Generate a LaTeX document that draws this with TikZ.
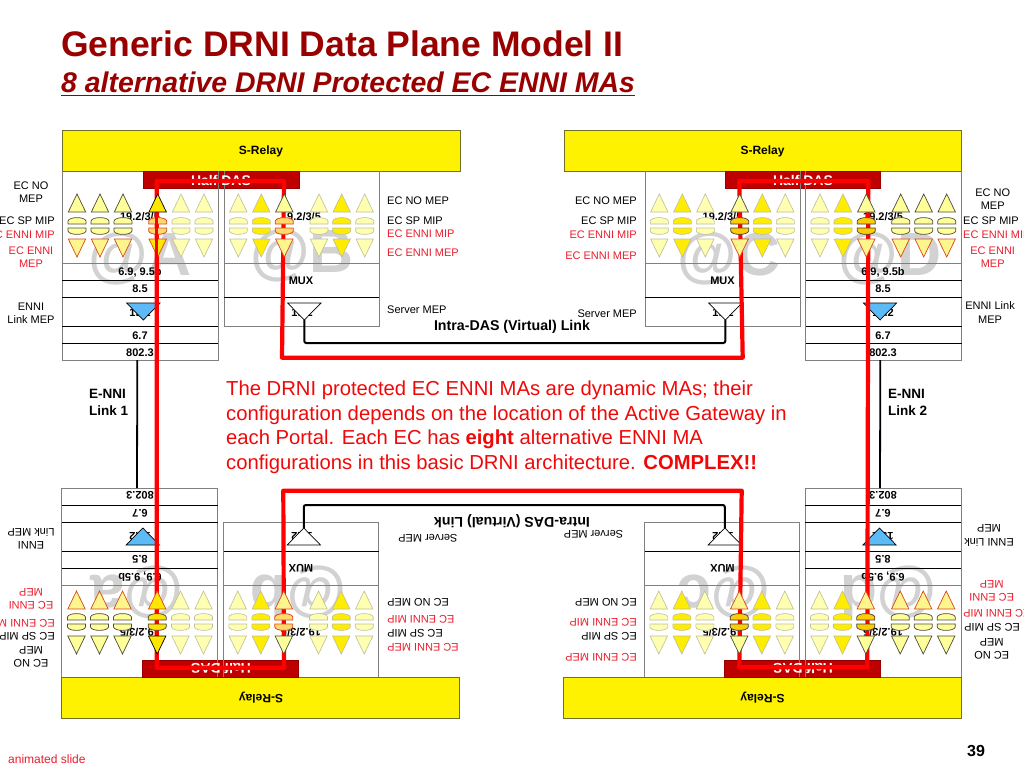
\documentclass[tikz,border=0pt]{standalone}
\usepackage{fontspec}
\setmainfont{Liberation Sans}
\definecolor{titlered}{HTML}{990000}
\definecolor{ennired}{HTML}{EA1C2C}
\definecolor{bodyred}{HTML}{F00808}
\definecolor{dasred}{HTML}{BE0000}
\definecolor{wmgray}{HTML}{D2D2D2}
\definecolor{relayedge}{HTML}{70702A}
\definecolor{boxedge}{HTML}{808080}
\definecolor{lemon}{HTML}{FFFF99}
\definecolor{fadeedge}{HTML}{BDBD98}
\definecolor{mepedge}{HTML}{D8481C}
\definecolor{linkblue}{HTML}{5CBBF6}
\newcommand{\ecstack}[4]{
  \draw[#2] (#1-8.7,212) -- (#1,194) -- (#1+8.7,212) -- cycle;
  \draw[#3] (#1-9,224) -- (#1-9,221) .. controls (#1-8,216.5) and (#1+8,216.5) .. (#1+9,221) -- (#1+9,224) -- cycle;
  \draw[#3] (#1-9,228) -- (#1+9,228) -- (#1+9,231) .. controls (#1+8,235.5) and (#1-8,235.5) .. (#1-9,231) -- cycle;
  \draw[#4] (#1-8.7,239) -- (#1+8.7,239) -- (#1,257) -- cycle;
}
\newcommand{\dasboxes}{
  \draw[relay] (62,130) rectangle (460,171);
  \draw[relay] (564,130) rectangle (961.5,171);
  \draw[das] (143,171) rectangle (299,188);
  \draw[das] (725,171) rectangle (880.5,188);
  \foreach \xa/\xb in {62/218,805.5/961.5} {
    \draw[outer] (\xa,171) -- (\xa,360) -- (\xb,360) -- (\xb,171);
    \draw[outer] (\xa,263) -- (\xb,263);
    \foreach \yy in {280,297,326,343} {\draw[rule] (\xa,\yy) -- (\xb,\yy);}
  }
  \foreach \xa/\xb in {224/379,645/800} {
    \draw[outer] (\xa,171) -- (\xa,326) -- (\xb,326) -- (\xb,171);
    \draw[outer] (\xa,263) -- (\xb,263);
    \draw[rule] (\xa,297) -- (\xb,297);
  }
  \coordinate (tipB) at (304.3,320);
  \coordinate (tipC) at (725.3,320);
  \draw[line width=2,rounded corners=2] (tipB) -- (304.3,343) -- (725.3,343) -- (tipC);
}
% the link triangles come after the clause numbers, which stay half hidden
\newcommand{\dastris}{
  \foreach \xc/\tint in {143.3/linkblue,880/linkblue,304.3/white,725.3/white} {
    \draw[rule,fill=\tint] (\xc-16.7,303) -- (\xc+16.7,303) -- (\xc,320) -- cycle;
  }
}
% #1 is the look of the lenses on the leading column of the left block
\newcommand{\dasstacks}[1]{
  \foreach \x in {77,100,123} {\ecstack{\x}{mepK}{mepK}{mepR}}
  \ecstack{157.7}{leadK}{#1}{leadR}
  \foreach \x in {181,204,238.3,319,364.7,659.3,705.3,785.3,820} {\ecstack{\x}{fadeup}{fadeup}{fadeup}}
  \foreach \x in {261.3,341.7,682.3,762.3,843} {\ecstack{\x}{hot}{hot}{hot}}
  \ecstack{284.3}{mepK}{lensR}{mepR}
  \foreach \x in {739.7,866.3} {\ecstack{\x}{mepK}{lensO}{mepR}}
  \foreach \x in {900.7,923.7,946.7} {\ecstack{\x}{mepK}{mepK}{mepR}}
}
\tikzset{
  lbl/.style={inner sep=0,font=\fontsize{11}{13.3}\selectfont},
  lblred/.style={lbl,text=ennired},
  num/.style={inner sep=0,font=\fontsize{11}{13}\selectfont\bfseries},
  flip/.style={rotate=180},
  relaytxt/.style={inner sep=0,font=\fontsize{12}{14}\selectfont\bfseries},
  dastxt/.style={inner sep=0,text=white,font=\fontsize{14}{16}\selectfont\bfseries},
  linktxt/.style={inner sep=0,font=\fontsize{13.5}{16.6}\selectfont\bfseries},
  intratxt/.style={inner sep=0,font=\fontsize{14.2}{17}\selectfont\bfseries},
  wmark/.style={inner sep=0,text=wmgray,font=\fontsize{61}{61}\selectfont\bfseries},
  relay/.style={draw=relayedge,fill=yellow,line width=.8},
  das/.style={draw=dasred!80!black,fill=dasred,line width=.5},
  outer/.style={draw=boxedge,line width=.9},
  rule/.style={draw=black,line width=.7},
  mepK/.style={draw=black!80!yellow,fill=lemon,line width=.7},
  mepR/.style={draw=mepedge,fill=lemon!92!orange,line width=.7},
  leadK/.style={draw=black,fill=yellow!90!orange,line width=.7},
  leadR/.style={draw=mepedge,fill=yellow!90!orange,line width=.7},
  lensR/.style={draw=mepedge,fill=lemon!70!orange,line width=.8},
  lensO/.style={draw=black!85!yellow,fill=yellow!65!orange,line width=.7},
  lensY/.style={draw=black!85!yellow,fill=yellow!85!orange,line width=.7},
  fadeup/.style={draw=fadeedge,fill=lemon!75!white,line width=.6},
  hot/.style={draw=fadeedge,fill=yellow!95!orange,line width=.6},
  loopline/.style={draw=red,line width=4.2,line join=round},
}
\begin{document}
\begin{tikzpicture}[x=1pt,y=-1pt]
  \useasboundingbox (0,0) rectangle (1024,768);
  \node[inner sep=0,anchor=base west,text=titlered,font=\fontsize{35.5}{40}\selectfont\bfseries] (title) at (61,56.7) {Generic DRNI Data Plane Model II};
  \node[inner sep=0,anchor=base west,text=titlered,font=\fontsize{28.45}{32}\selectfont\bfseries\itshape] (subtitle) at (61,92.7) {8 alternative DRNI Protected EC ENNI MAs};
  \draw[titlered,line width=1.4] ([yshift=-2.6pt]subtitle.base west) -- ([yshift=-2.6pt]subtitle.base east);

  % watermarks first, everything sits on them
  \foreach \xw/\yw/\mk in {88/275/A,250/272/B,677/275/C,838/275/D} {
    \node[wmark,anchor=base west] (wm\mk) at (\xw,\yw) {@\mk};
  }
  \foreach \xw/\mk in {90/a,250/b,677/c,840/d} {
    \node[wmark,flip,anchor=base east] (wm\mk) at (\xw,575) {@\mk};
  }

  \dasboxes
  \begin{scope}[shift={(-0.5,848)},yscale=-1]
    \dasboxes
  \end{scope}

  % upper row texts
  \node[relaytxt] (relayL) at (261,151) {S-Relay};
  \node[relaytxt] (relayR) at (762.5,151) {S-Relay};
  \node[dastxt] (dasL) at (221,180) {Half DAS};
  \node[dastxt] (dasR) at (803,180) {Half DAS};
  \foreach \xn/\nm in {140/A,301/B,722.5/C,883/D} {
    \node[num] (clause\nm) at (\xn,217) {19.2/3/5};
  }
  \foreach \xn/\nm in {140/A,883/D} {
    \node[num] (ec\nm) at (\xn,272) {6.9, 9.5b};
    \node[num] (sub\nm) at (\xn,289) {8.5};
    \node[num] (mac\nm) at (\xn,335.3) {6.7};
    \node[num] (phy\nm) at (\xn,352.3) {802.3};
  }
  \foreach \xn/\nm in {301/B,722.5/C} {
    \node[num] (mux\nm) at (\xn,280.7) {MUX};
  }
  % lower row texts
  \node[relaytxt,flip] (relayLb) at (261,697.3) {S-Relay};
  \node[relaytxt,flip] (relayRb) at (762.5,697.3) {S-Relay};
  \node[dastxt,flip] (dasLb) at (221,668) {Half DAS};
  \node[dastxt,flip] (dasRb) at (803,668) {Half DAS};
  \foreach \xn/\nm in {140/A,301/B,722.5/C,883/D} {
    \node[num,flip] (clause\nm b) at (\xn,632) {19.2/3/5};
  }
  \foreach \xn/\nm in {140/A,883/D} {
    \node[num,flip] (ec\nm b) at (\xn,576.7) {6.9, 9.5b};
    \node[num,flip] (sub\nm b) at (\xn,559.3) {8.5};
    \node[num,flip] (mac\nm b) at (\xn,513.3) {6.7};
    \node[num,flip] (phy\nm b) at (\xn,495.7) {802.3};
  }
  \foreach \xn/\nm in {301/B,722.5/C} {
    \node[num,flip] (mux\nm b) at (\xn,568.3) {MUX};
  }
  \foreach \xn/\nm in {140/A,302/B,723/C,883/D} {
    \node[num] (srv\nm) at (\xn,312.7) {19.2};
    \node[num,flip] (srv\nm b) at (\xn,536) {19.2};
  }
  \dastris
  \begin{scope}[shift={(-0.5,848)},yscale=-1]
    \dastris
  \end{scope}

  % E-NNI links
  \coordinate (linkLt) at (137.3,360);
  \coordinate (linkLb) at (137,488);
  \coordinate (linkRt) at (880.3,360);
  \coordinate (linkRb) at (880,488);
  \draw[line width=1.8] (linkLt) -- (linkLb);
  \draw[line width=1.8] (linkRt) -- (linkRb);

  % red loop of the MA
  \draw[loopline] (156.7,181) -- (284,181) -- (282,357.7) -- (742.7,357.7) -- (739.3,181) -- (868.3,181)
    -- (867.3,667.3) -- (739.3,667.3) -- (741.7,490.7) -- (283.3,490.7) -- (284,667.7) -- (156.7,667.7) -- cycle;

  \dasstacks{lensR}
  \begin{scope}[shift={(-0.5,848)},yscale=-1]
    \dasstacks{lensY}
  \end{scope}
  \draw[loopline,line width=3] (156.7,215) -- (156.7,262);

  % left of block A
  \node[lbl,align=center] (noA) at (31,192.5) {EC NO\\MEP};
  \node[lbl,anchor=east] (spA) at (55,221) {EC SP MIP};
  \node[lblred,anchor=east] (mipA) at (55,235) {EC ENNI MIP};
  \node[lblred,align=center] (mepA) at (31,257.5) {EC ENNI\\MEP};
  \node[lbl,align=center] (lkA) at (31,313) {ENNI\\Link MEP};
  % right of block B
  \node[lbl,anchor=west] (noB) at (387,200.7) {EC NO MEP};
  \node[lbl,anchor=west] (spB) at (387,221) {EC SP MIP};
  \node[lblred,anchor=west] (mipB) at (387,234) {EC ENNI MIP};
  \node[lblred,anchor=west] (mepB) at (387,252.7) {EC ENNI MEP};
  \node[lbl,anchor=west] (smB) at (387,310) {Server MEP};
  % left of block C
  \node[lbl,anchor=east] (noC) at (637,201) {EC NO MEP};
  \node[lbl,anchor=east] (spC) at (637,221) {EC SP MIP};
  \node[lblred,anchor=east] (mipC) at (637,234.5) {EC ENNI MIP};
  \node[lblred,anchor=east] (mepC) at (637,256) {EC ENNI MEP};
  \node[lbl,anchor=east] (smC) at (637,314) {Server MEP};
  % right of block D
  \node[lbl,align=center] (noD) at (992.7,199.5) {EC NO\\MEP};
  \node[lbl,anchor=west] (spD) at (963,221) {EC SP MIP};
  \node[lblred,anchor=west] (mipD) at (963,234.5) {EC ENNI MIP};
  \node[lblred,align=center] (mepD) at (992.7,257.5) {EC ENNI\\MEP};
  \node[lbl,align=center] (lkD) at (990,312.5) {ENNI Link\\MEP};
  % lower row, turned round
  \node[lbl,flip,align=center] (noAb) at (31,656.5) {EC NO\\MEP};
  \node[lbl,flip,anchor=west] (spAb) at (55,636.7) {EC SP MIP};
  \node[lblred,flip,anchor=west] (mipAb) at (55,623) {EC ENNI MIP};
  \node[lblred,flip,align=center] (mepAb) at (31,598.5) {EC ENNI\\MEP};
  \node[lbl,flip,align=center] (lkAb) at (31,539) {ENNI\\Link MEP};
  \node[lbl,flip,anchor=east] (noBb) at (387,602.3) {EC NO MEP};
  \node[lblred,flip,anchor=east] (mipBb) at (387,619.3) {EC ENNI MIP};
  \node[lbl,flip,anchor=east] (spBb) at (387,633) {EC SP MIP};
  \node[lblred,flip,anchor=east] (mepBb) at (387,647.7) {EC ENNI MEP};
  \node[lbl,flip,anchor=east] (smBb) at (398,538.3) {Server MEP};
  \node[lbl,flip,anchor=west] (noCb) at (637,602.3) {EC NO MEP};
  \node[lblred,flip,anchor=west] (mipCb) at (637,622.7) {EC ENNI MIP};
  \node[lbl,flip,anchor=west] (spCb) at (637,636) {EC SP MIP};
  \node[lblred,flip,anchor=west] (mepCb) at (637,657.3) {EC ENNI MEP};
  \node[lbl,flip,anchor=west] (smCb) at (623.3,534) {Server MEP};
  \node[lbl,flip,align=center] (noDb) at (991.7,649) {EC NO\\MEP};
  \node[lbl,flip,anchor=east] (spDb) at (964,627.7) {EC SP MIP};
  \node[lblred,flip,anchor=east] (mipDb) at (963,613.7) {EC ENNI MIP};
  \node[lblred,flip,align=center] (mepDb) at (991.7,591) {EC ENNI\\MEP};
  \node[lbl,flip,align=center] (lkDb) at (989,535.5) {ENNI Link\\MEP};

  \node[intratxt] (intra) at (512,327) {Intra-DAS (Virtual) Link};
  \node[intratxt,flip] (intrab) at (512,520.7) {Intra-DAS (Virtual) Link};
  \node[linktxt,anchor=north west,align=left] (enniL) at (89,389) {E-NNI\\Link 1};
  \node[linktxt,anchor=north west,align=left] (enniR) at (888,389) {E-NNI\\Link 2};

  \node[inner sep=0,anchor=north west,align=left,text=bodyred,font=\fontsize{20.25}{24.4}\selectfont] (body) at (226,381) {%
    The DRNI protected EC ENNI MAs are dynamic MAs; their\\
    configuration depends on the location of the Active Gateway in\\
    each Portal. Each EC has \textbf{eight} alternative ENNI MA\\
    configurations in this basic DRNI architecture. \textbf{COMPLEX!!}};

  \node[inner sep=0,anchor=west,text=ennired,font=\fontsize{12}{14}\selectfont] (note) at (8,759) {animated slide};
  \node[inner sep=0,text=black,font=\fontsize{16}{18}\selectfont\bfseries] (page) at (976,751) {39};
\end{tikzpicture}
\end{document}
